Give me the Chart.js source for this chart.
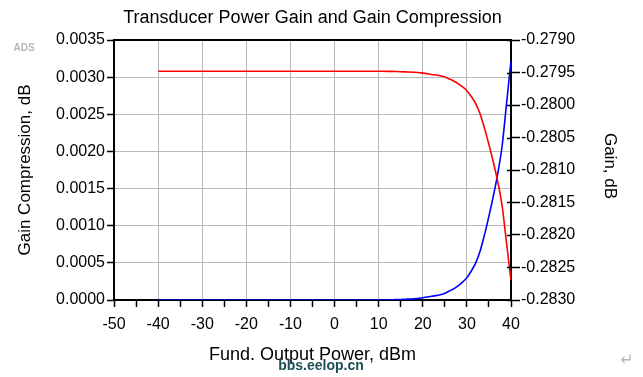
<!DOCTYPE html>
<html>
<head>
<meta charset="utf-8">
<script src="https://cdn.jsdelivr.net/npm/chart.js@4.4.1/dist/chart.umd.min.js"></script>
<style>
  html, body { margin: 0; padding: 0; background: #fff; }
  #wrap { width: 643px; height: 377px; position: relative; }
</style>
</head>
<body>
<div id="wrap"><canvas id="grafico" width="643" height="377"></canvas></div>
<script>
// output power, dBm
const potencia = [-40, -30, -20, -10, 0, 5, 10, 12, 14, 16, 18, 20, 22, 24, 25, 26, 27, 28, 29, 30, 31, 32, 33, 34, 35, 36, 37, 38, 39, 40];
// gain compression, dB (left axis)
const compressao = [0, 0, 0, 0, 0, 0, 0, 0.000002, 0.000005, 0.00001, 0.000015, 0.00003, 0.00005, 0.00007, 0.00009, 0.00012, 0.00015, 0.00019, 0.00024, 0.0003, 0.00039, 0.0005, 0.00066, 0.00088, 0.00113, 0.0014, 0.0017, 0.00208, 0.00265, 0.00322];
// transducer power gain, dB (right axis)
const ganho = [-0.27948, -0.27948, -0.27948, -0.27948, -0.27948, -0.27948, -0.27948, -0.279482, -0.279485, -0.27949, -0.279495, -0.27951, -0.27953, -0.27955, -0.27957, -0.2796, -0.27963, -0.27967, -0.27972, -0.27978, -0.27987, -0.27998, -0.28014, -0.28036, -0.28061, -0.28088, -0.28118, -0.28156, -0.28213, -0.2827];

const titulo = 'Transducer Power Gain and Gain Compression';
const tituloX = 'Fund. Output Power, dBm';
const tituloEsq = 'Gain Compression, dB';
const tituloDir = 'Gain, dB';

const fonte = 'Liberation Sans, Arial, sans-serif';

const textos = {
    id: 'textos',
    afterDraw(chart) {
        const c = chart.ctx;
        const a = chart.chartArea;
        c.save();
        // moldura superior
        c.strokeStyle = '#000';
        c.lineWidth = 2;
        c.beginPath();
        c.moveTo(a.left - 1, a.top);
        c.lineTo(a.right + 1, a.top);
        c.stroke();
        // marcas internas do eixo direito
        const yd = chart.scales.y2;
        c.lineWidth = 1.5;
        yd.ticks.forEach(t => {
            const y = Math.round(yd.getPixelForValue(t.value)) + 0.5;
            c.beginPath();
            c.moveTo(a.right - 4, y);
            c.lineTo(a.right, y);
            c.stroke();
        });

        c.fillStyle = '#000';
        c.textAlign = 'center';
        c.textBaseline = 'middle';
        c.font = '18px ' + fonte;
        c.fillText(titulo, (a.left + a.right) / 2, 18);
        c.fillText(tituloX, (a.left + a.right) / 2, 355);

        c.font = '17px ' + fonte;
        c.save();
        c.translate(25, 170);
        c.rotate(-Math.PI / 2);
        c.fillText(tituloEsq, 0, 0);
        c.restore();

        c.save();
        c.translate(610, 166);
        c.rotate(Math.PI / 2);
        c.fillText(tituloDir, 0, 0);
        c.restore();

        // marcas d'agua
        c.fillStyle = '#b8b8b8';
        c.font = 'bold 10px ' + fonte;
        c.fillText('ADS', 24, 48);
        c.font = '16px DejaVu Sans, sans-serif';
        c.fillText('\u21B5', 627, 361);
        c.fillStyle = '#1d4f55';
        c.font = 'bold 14px Liberation Sans Narrow, Liberation Sans, sans-serif';
        c.fillText('bbs.eelop.cn', 321, 366);
        c.restore();
    }
};

new Chart(document.getElementById('grafico').getContext('2d'), {
    type: 'line',
    data: {
        datasets: [{
            label: 'Gain',
            data: potencia.map((p, i) => ({ x: p, y: ganho[i] })),
            yAxisID: 'y2',
            borderColor: '#ff0000',
            borderWidth: 1.6,
            pointRadius: 0,
            tension: 0.3,
            fill: false,
        }, {
            label: 'Gain Compression',
            data: potencia.map((p, i) => ({ x: p, y: compressao[i] })),
            yAxisID: 'y',
            borderColor: '#0000ff',
            borderWidth: 1.6,
            pointRadius: 0,
            tension: 0.3,
            fill: false,
        }]
    },
    options: {
        responsive: false,
        animation: false,
        layout: { padding: { top: 40, left: 0, right: 0, bottom: 0 } },
        plugins: {
            legend: { display: false },
            title: { display: false },
            tooltip: { enabled: false }
        },
        scales: {
            x: {
                type: 'linear',
                min: -50,
                max: 40,
                afterFit: s => { s.height = 77; },
                border: { color: '#000', width: 2 },
                grid: {
                    color: ctx => (ctx.tick && ctx.tick.value % 10 === 0 && ctx.tick.value > -50 && ctx.tick.value < 40) ? '#b8b8b8' : 'rgba(0,0,0,0)',
                    tickColor: '#000',
                    tickLength: 7,
                    lineWidth: 1,
                    tickWidth: 1.5
                },
                ticks: {
                    stepSize: 5,
                    autoSkip: false,
                    maxRotation: 0,
                    padding: 8,
                    color: '#000',
                    font: { size: 16, family: fonte },
                    callback: v => (v % 10 === 0 ? String(v) : '')
                }
            },
            y: {
                position: 'left',
                min: 0,
                max: 0.0035,
                afterFit: s => { s.width = 114; },
                border: { color: '#000', width: 2 },
                grid: {
                    color: ctx => (ctx.tick && ctx.tick.value > 0 && ctx.tick.value < 0.0035) ? '#b8b8b8' : 'rgba(0,0,0,0)',
                    tickColor: '#000',
                    tickLength: 7,
                    tickWidth: 1.5
                },
                ticks: {
                    stepSize: 0.0005,
                    padding: 2,
                    color: '#000',
                    font: { size: 16, family: fonte },
                    callback: v => v.toFixed(4)
                }
            },
            y2: {
                position: 'right',
                min: -0.283,
                max: -0.279,
                afterFit: s => { s.width = 132; },
                border: { color: '#000', width: 2 },
                grid: {
                    drawOnChartArea: false,
                    tickColor: '#000',
                    tickLength: 9,
                    tickWidth: 1.5
                },
                ticks: {
                    stepSize: 0.0005,
                    padding: 1,
                    color: '#000',
                    font: { size: 16, family: fonte },
                    callback: v => v.toFixed(4)
                }
            }
        }
    },
    plugins: [textos]
});
</script>
</body>
</html>
